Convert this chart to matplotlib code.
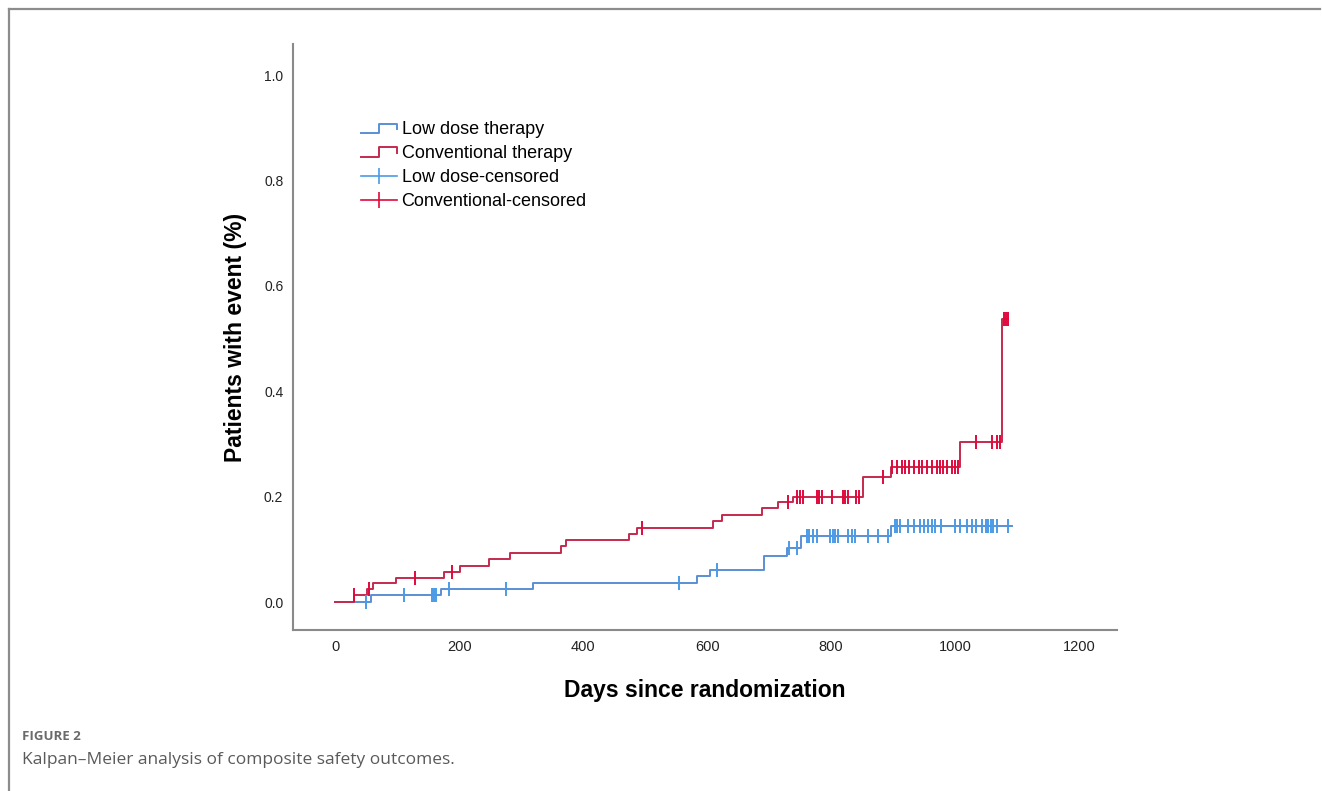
import numpy as np
import matplotlib
matplotlib.use('Agg')
import matplotlib.pyplot as plt
from matplotlib.lines import Line2D
from matplotlib.legend_handler import HandlerBase

# Conventional therapy: step times (days) and cumulative event proportion
conv_days = [0, 31, 52, 61, 98, 176, 202, 248, 282, 364, 372, 474, 487, 609, 624,
             689, 715, 738, 852, 897, 1008, 1076, 1086]
conv_vals = [0.0, 0.013, 0.025, 0.036, 0.046, 0.057, 0.068, 0.081, 0.094, 0.106, 0.117,
             0.129, 0.140, 0.153, 0.165, 0.178, 0.190, 0.200, 0.237, 0.257, 0.304, 0.537, 0.537]
conv_censor = [31, 55, 128, 189, 495, 731, 745, 750, 755, 777, 781, 785, 802, 819, 823,
               827, 840, 845, 884, 898, 906, 914, 919, 926, 934, 942, 946, 955, 963, 971,
               976, 981, 987, 995, 1000, 1005, 1034, 1060, 1068, 1073, 1079, 1082, 1086]

# Low dose therapy
low_days = [0, 58, 171, 319, 584, 605, 692, 728, 752, 897, 1092]
low_vals = [0.0, 0.013, 0.025, 0.037, 0.049, 0.061, 0.087, 0.102, 0.125, 0.144, 0.144]
low_censor = [50, 111, 156, 160, 163, 184, 276, 555, 616, 732, 745, 761, 764, 771, 777,
              798, 803, 806, 811, 827, 834, 839, 860, 876, 892, 903, 906, 911, 924, 934,
              944, 950, 956, 963, 968, 977, 1000, 1008, 1019, 1027, 1034, 1044, 1050, 1053,
              1058, 1061, 1068, 1086]

x_ticks = [0, 200, 400, 600, 800, 1000, 1200]
y_ticks = [0.0, 0.2, 0.4, 0.6, 0.8, 1.0]
labels = ['Low dose therapy', 'Conventional therapy', 'Low dose-censored', 'Conventional-censored']

blue_line = '#5a8fd4'
blue_mark = '#4a9be6'
red_line = '#c42a4e'
red_mark = '#e0083c'


def level_at(days, vals, t):
    i = np.searchsorted(days, t, side='right') - 1
    return np.asarray(vals)[i]


class StepHandler(HandlerBase):
    # legend key drawn as a small step like SPSS does
    def create_artists(self, legend, orig_handle, xdescent, ydescent, width, height, fontsize, trans):
        x0, y0 = -xdescent, -ydescent
        xs = [x0, x0 + 0.5 * width, x0 + 0.5 * width, x0 + width, x0 + width]
        ys = [y0 + 0.1 * height, y0 + 0.1 * height, y0 + 0.85 * height, y0 + 0.85 * height, y0 + 0.4 * height]
        ln = Line2D(xs, ys, color=orig_handle.get_color(), lw=orig_handle.get_linewidth())
        ln.set_transform(trans)
        return [ln]


fig = plt.figure(figsize=(13.22, 7.91), dpi=100)
ax = fig.add_axes([293 / 1322, 1 - 630 / 791, 824 / 1322, 586 / 791])

l1, = ax.step(low_days, low_vals, where='post', color=blue_line, lw=1.4)
l2, = ax.step(conv_days, conv_vals, where='post', color=red_line, lw=1.4)
ax.plot(low_censor, level_at(low_days, low_vals, low_censor), ls='none', marker='|',
        ms=10, mew=1.4, color=blue_mark)
ax.plot(conv_censor, level_at(conv_days, conv_vals, conv_censor), ls='none', marker='|',
        ms=10, mew=1.4, color=red_mark)

ax.set_xlim(-68, 1261)
ax.set_ylim(-0.053, 1.059)
ax.set_xticks(x_ticks)
ax.set_yticks(y_ticks)
ax.set_xticklabels([str(v) for v in x_ticks], family=['Liberation Sans Narrow', 'Liberation Sans'], fontsize=10.5)
ax.set_yticklabels([f'{v:.1f}' for v in y_ticks], family='Liberation Sans', fontsize=10)
ax.tick_params(length=0, pad=7, colors='#222222')
for s in ['top', 'right']:
    ax.spines[s].set_visible(False)
for s in ['left', 'bottom']:
    ax.spines[s].set_color('#8a8a8a')
    ax.spines[s].set_linewidth(1.5)

ax.set_xlabel('Days since randomization', family='Liberation Sans', fontweight='bold',
              fontsize=16.5, labelpad=18)
ax.set_ylabel('Patients with event (%)', family='Liberation Sans', fontweight='bold',
              fontsize=16.5, labelpad=12)

c1 = Line2D([], [], color=blue_mark, lw=1.2, marker='|', ms=12, mew=1.2)
c2 = Line2D([], [], color=red_mark, lw=1.2, marker='|', ms=12, mew=1.2)
ax.legend([l1, l2, c1, c2], labels, loc='upper left', bbox_to_anchor=(0.0825, 0.868),
          frameon=False, borderpad=0, borderaxespad=0, handlelength=2.0, handletextpad=0.25,
          labelspacing=0.38, prop={'family': 'Liberation Sans', 'size': 13},
          handler_map={l1: StepHandler(), l2: StepHandler()})

# journal frame and caption
fig.add_artist(Line2D([9 / 1322, 1320 / 1322], [1 - 9 / 791, 1 - 9 / 791], color='#8c8c8c', lw=1.6))
fig.add_artist(Line2D([9 / 1322, 9 / 1322], [1 - 9 / 791, 0], color='#8c8c8c', lw=1.6))
fig.text(22 / 1322, 1 - 736 / 791, 'FIGURE 2', family='Open Sans', fontweight='bold',
         fontsize=9.5, color='#6a6a6a', va='center')
fig.text(22 / 1322, 1 - 760 / 791, 'Kalpan\u2013Meier analysis of composite safety outcomes.',
         family='Open Sans', fontsize=12.5, color='#5a5a5a', va='center')

fig.savefig('out.png', dpi=100)
